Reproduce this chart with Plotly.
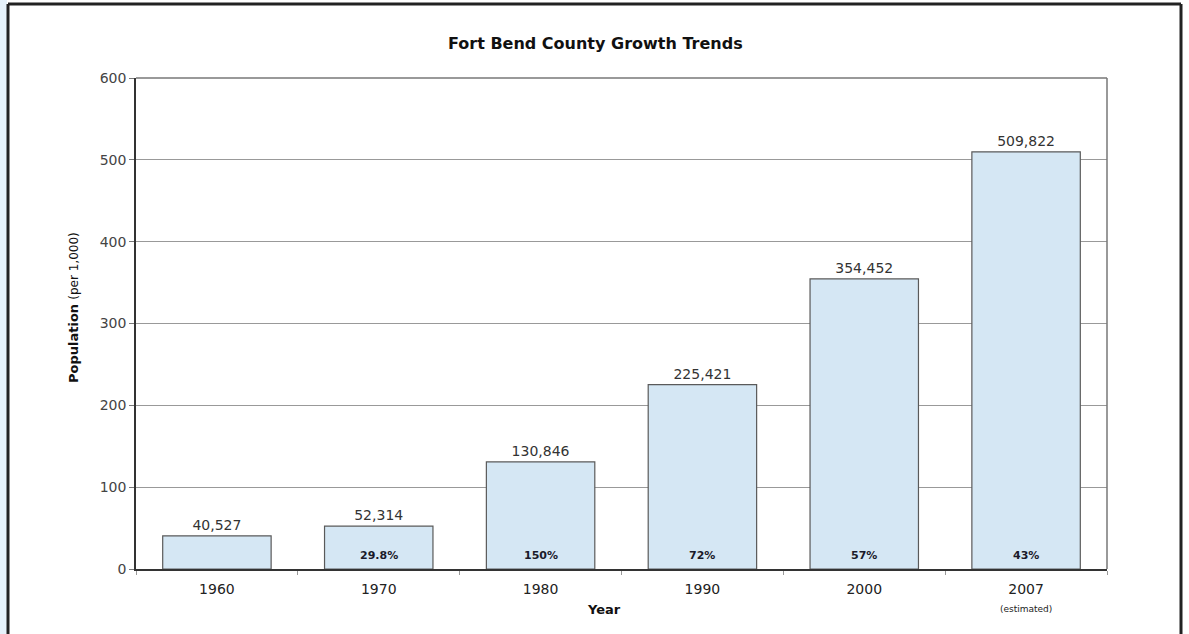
import plotly.graph_objects as go

years = ["1960", "1970", "1980", "1990", "2000", "2007"]
tick_labels = ["1960", "1970", "1980", "1990", "2000",
               "2007<br><span style='font-size:9px'>(estimated)</span>"]
population = [40527, 52314, 130846, 225421, 354452, 509822]
growth = ["", "29.8%", "150%", "72%", "57%", "43%"]

pop_k = [p / 1000 for p in population]
value_text = [f"{p:,}" for p in population]

W, H = 1189, 634
L, R, T, B = 136, 82, 78, 65
pw, ph = W - L - R, H - T - B

def px_x(x):
    return (x - L) / pw

def px_y(y):
    return (H - B - y) / ph

fig = go.Figure()
fig.add_trace(go.Bar(
    x=years, y=pop_k,
    width=0.67,
    marker=dict(color="#d5e7f4", line=dict(color="#5a5a5a", width=1.2)),
    text=value_text, textposition="outside",
    textfont=dict(family="DejaVu Sans", size=14, color="#333"),
    cliponaxis=False,
    hoverinfo="skip",
))

annotations = []
for i, g in enumerate(growth):
    if g:
        annotations.append(dict(
            x=i, y=17, xref="x", yref="y", text=f"<b>{g}</b>",
            showarrow=False, xanchor="center", yanchor="middle",
            font=dict(family="DejaVu Sans", size=11, color="#1a1a2a"),
        ))

annotations.append(dict(
    x=px_x(595), xref="paper", y=px_y(43), yref="paper",
    xanchor="center", yanchor="middle",
    text="<b>Fort Bend County Growth Trends</b>", showarrow=False,
    font=dict(family="DejaVu Sans", size=16, color="#111"),
))
annotations.append(dict(
    x=px_x(604), xref="paper", y=px_y(609), yref="paper",
    xanchor="center", yanchor="middle",
    text="<b>Year</b>", showarrow=False,
    font=dict(family="DejaVu Sans", size=13, color="#111"),
))
annotations.append(dict(
    x=px_x(73), xref="paper", y=px_y(308), yref="paper",
    xanchor="center", yanchor="middle",
    text="<b>Population</b> <span style='font-size:12px'>(per 1,000)</span>",
    textangle=-90, showarrow=False,
    font=dict(family="DejaVu Sans", size=13, color="#111"),
))

shapes = [
    dict(type="rect", xref="paper", yref="paper",
         x0=px_x(0), x1=px_x(7), y0=px_y(H + 5), y1=px_y(0),
         fillcolor="#e6f2fb", line=dict(width=0), layer="below"),
    dict(type="line", xref="paper", yref="paper",
         x0=px_x(8), x1=px_x(8), y0=px_y(4), y1=px_y(H + 5),
         line=dict(color="#222", width=3)),
    dict(type="line", xref="paper", yref="paper",
         x0=px_x(8), x1=px_x(1181), y0=px_y(4), y1=px_y(4),
         line=dict(color="#222", width=3)),
    dict(type="line", xref="paper", yref="paper",
         x0=px_x(1181), x1=px_x(1181), y0=px_y(4), y1=px_y(H + 5),
         line=dict(color="#222", width=3)),
    dict(type="line", xref="paper", yref="paper",
         x0=1, x1=1, y0=0, y1=1, line=dict(color="#777", width=1.5)),
    dict(type="line", xref="paper", yref="paper",
         x0=0, x1=1, y0=1, y1=1, line=dict(color="#777", width=1.5)),
]

fig.update_layout(
    width=W, height=H,
    margin=dict(l=L, r=R, t=T, b=B),
    paper_bgcolor="white", plot_bgcolor="white",
    showlegend=False,
    annotations=annotations,
    shapes=shapes,
    font=dict(family="DejaVu Sans", color="#333"),
    xaxis=dict(
        type="category",
        range=[-0.5, len(years) - 0.5],
        tickmode="array", tickvals=years, ticktext=tick_labels,
        tickson="boundaries", ticks="outside", ticklen=4, tickcolor="#999",
        ticklabelstandoff=6,
        showline=True, linecolor="#333", linewidth=1.5,
        tickfont=dict(family="DejaVu Sans", size=14, color="#222"),
        showgrid=False,
    ),
    yaxis=dict(
        range=[0, 600], dtick=100,
        ticks="outside", ticklen=5, tickcolor="#777",
        showline=True, linecolor="#333", linewidth=1.5,
        showgrid=True, gridcolor="#999", gridwidth=1,
        zeroline=False,
        tickfont=dict(family="DejaVu Sans", size=14, color="#444"),
    ),
)

fig.write_html("out.html", config={"displayModeBar": False},
               post_script="document.body.style.margin='0';document.body.style.overflow='hidden';")
